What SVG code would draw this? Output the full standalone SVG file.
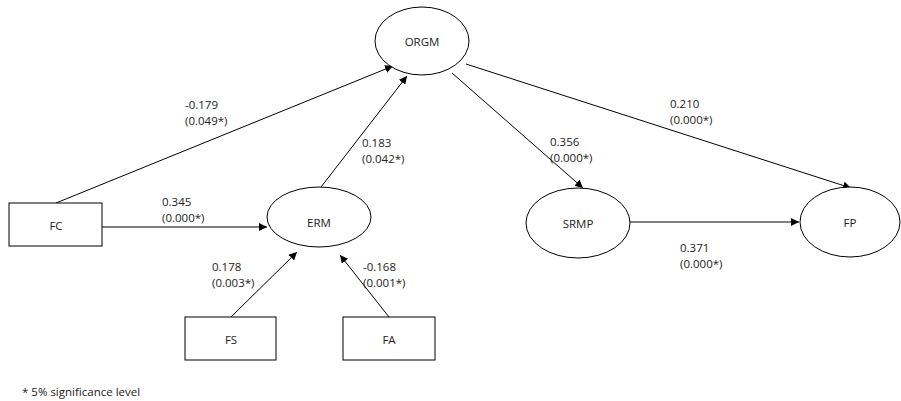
<svg xmlns="http://www.w3.org/2000/svg" width="901" height="401" viewBox="0 0 901 401">
  <style>
    .node { fill: #ffffff; stroke: #000000; stroke-width: 1; }
    .lbl { font-family: "Open Sans", "Liberation Sans", sans-serif; font-size: 11.5px; fill: #222222; }
    .ctr { text-anchor: middle; dominant-baseline: central; }
    .edge { stroke: #000000; stroke-width: 1; fill: none; marker-end: url(#arrow); }
  </style>
  <defs>
    <marker id="arrow" viewBox="0 0 10 10" refX="10" refY="5" markerWidth="8" markerHeight="8" markerUnits="userSpaceOnUse" orient="auto">
      <path d="M0,0 L10,5 L0,10 z" fill="#000000"/>
    </marker>
  </defs>
  <rect width="901" height="401" fill="#ffffff"/>

  <!-- connectors -->
  <g id="connectors">
    <line class="edge" x1="56" y1="203" x2="393" y2="66"/>
    <line class="edge" x1="102" y1="227" x2="267" y2="227"/>
    <line class="edge" x1="321" y1="187" x2="407" y2="76"/>
    <line class="edge" x1="231" y1="317" x2="297" y2="252"/>
    <line class="edge" x1="389" y1="317" x2="340" y2="255"/>
    <line class="edge" x1="452" y1="73" x2="583" y2="188"/>
    <line class="edge" x1="466" y1="64" x2="851" y2="188"/>
    <line class="edge" x1="630" y1="222" x2="799" y2="222"/>
  </g>

  <!-- nodes -->
  <g id="ORGM">
    <ellipse class="node" cx="422" cy="41" rx="47" ry="34"/>
    <text class="lbl ctr" x="422" y="41">ORGM</text>
  </g>
  <g id="ERM">
    <ellipse class="node" cx="319" cy="217" rx="52" ry="30"/>
    <text class="lbl ctr" x="319" y="222">ERM</text>
  </g>
  <g id="FC">
    <rect class="node" x="9" y="203" width="93" height="43"/>
    <text class="lbl ctr" x="56" y="225">FC</text>
  </g>
  <g id="FS">
    <rect class="node" x="185" y="317" width="91" height="43"/>
    <text class="lbl ctr" x="231" y="339">FS</text>
  </g>
  <g id="FA">
    <rect class="node" x="343" y="317" width="92" height="43"/>
    <text class="lbl ctr" x="389" y="339">FA</text>
  </g>
  <g id="SRMP">
    <ellipse class="node" cx="578" cy="223" rx="52" ry="35"/>
    <text class="lbl ctr" x="578" y="223">SRMP</text>
  </g>
  <g id="FP">
    <ellipse class="node" cx="850" cy="222" rx="50" ry="35"/>
    <text class="lbl ctr" x="850" y="222">FP</text>
  </g>

  <!-- path coefficients -->
  <g id="labels" class="lbl">
    <text x="185" y="109">-0.179</text>
    <text x="185" y="125">(0.049*)</text>
    <text x="162" y="206">0.345</text>
    <text x="162" y="222">(0.000*)</text>
    <text x="362" y="147">0.183</text>
    <text x="362" y="163">(0.042*)</text>
    <text x="212" y="271">0.178</text>
    <text x="212" y="287">(0.003*)</text>
    <text x="363" y="271">-0.168</text>
    <text x="363" y="287">(0.001*)</text>
    <text x="550" y="146">0.356</text>
    <text x="550" y="162">(0.000*)</text>
    <text x="670" y="108">0.210</text>
    <text x="670" y="124">(0.000*)</text>
    <text x="680" y="252">0.371</text>
    <text x="680" y="268">(0.000*)</text>
    <text x="22" y="396">* 5% significance level</text>
  </g>
</svg>
